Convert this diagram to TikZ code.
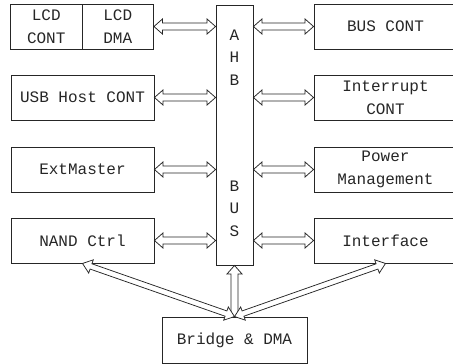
\documentclass[tikz,border=0pt]{standalone}
\usepackage{fontspec}
\setmonofont{Liberation Mono}
\usetikzlibrary{positioning,calc}

% hollow block arrows between two points
\newcommand{\shaftw}{3.5}
\newcommand{\headw}{7.5}
\newcommand{\headl}{8.5}
\newcommand{\twoway}[2]{%
  \draw[hollow] let \p1=(#1), \p2=(#2), \n1={atan2(\y2-\y1,\x2-\x1)}, \n2={veclen(\x2-\x1,\y2-\y1)} in
    [shift={(\p1)}, rotate=\n1]
    (0,0) -- (\headl,\headw) -- (\headl,\shaftw) -- (\n2-\headl,\shaftw) -- (\n2-\headl,\headw) -- (\n2,0)
    -- (\n2-\headl,-\headw) -- (\n2-\headl,-\shaftw) -- (\headl,-\shaftw) -- (\headl,-\headw) -- cycle;}
\newcommand{\oneway}[2]{%
  \draw[hollow] let \p1=(#1), \p2=(#2), \n1={atan2(\y2-\y1,\x2-\x1)}, \n2={veclen(\x2-\x1,\y2-\y1)} in
    [shift={(\p1)}, rotate=\n1]
    (0,\shaftw) -- (\n2-\headl,\shaftw) -- (\n2-\headl,\headw) -- (\n2,0)
    -- (\n2-\headl,-\headw) -- (\n2-\headl,-\shaftw) -- (0,-\shaftw) -- cycle;}

\begin{document}
\begin{tikzpicture}[x=1pt, y=-1pt, font=\ttfamily\fontsize{16}{22.5}\selectfont]
\tikzset{
  blk/.style={draw=black!85, line width=0.9pt, minimum width=143pt, minimum height=45pt, inner sep=0pt, align=center, text=black!85},
  half/.style={blk, minimum width=71.5pt},
  hollow/.style={draw=black!85, line width=0.75pt, fill=white, line join=miter},
  letter/.style={align=center, inner sep=0pt, text=black!85}
}
\useasboundingbox (0,0) rectangle (453,364);
% left column
\node[half] (lcdc) at (46.25,26.5) {LCD\\CONT};
\node[half] (lcdd) at (117.75,26.5) {LCD\\DMA};
\node[blk] (usb) at (82.5,97.5) {USB Host CONT};
\node[blk] (ext) at (82.5,169.5) {ExtMaster};
\node[blk] (nand) at (82.5,240.5) {NAND Ctrl};
% right column
\node[blk] (buscont) at (385.5,26.5) {BUS CONT};
\node[blk] (intc) at (385.5,97.5) {Interrupt\\CONT};
\node[blk] (power) at (385.5,169.5) {Power\\Management};
\node[blk] (iface) at (385.5,240.5) {Interface};
% bus
\node[draw=black!85, line width=0.9pt, minimum width=37pt, minimum height=260pt] (bus) at (234.5,135) {};
\node[letter] (ahb) at (234.5,57.5) {A\\H\\B};
\node[letter] (bustxt) at (234.5,208.5) {B\\U\\S};
\node[blk, minimum width=145pt, minimum height=46pt] (bridge) at (234.5,340) {Bridge \& DMA};
% links to the bus
\twoway{lcdd.east}{lcdd.east -| bus.west}
\twoway{usb.east}{usb.east -| bus.west}
\twoway{ext.east}{ext.east -| bus.west}
\twoway{nand.east}{nand.east -| bus.west}
\twoway{bus.east |- buscont.west}{buscont.west}
\twoway{bus.east |- intc.west}{intc.west}
\twoway{bus.east |- power.west}{power.west}
\twoway{bus.east |- iface.west}{iface.west}
% bridge
\oneway{bridge.north}{bus.south}
{\renewcommand{\shaftw}{2.8}\renewcommand{\headw}{7}\renewcommand{\headl}{9}
\twoway{bridge.north}{nand.south}
\twoway{bridge.north}{iface.south}}
\end{tikzpicture}
\end{document}
